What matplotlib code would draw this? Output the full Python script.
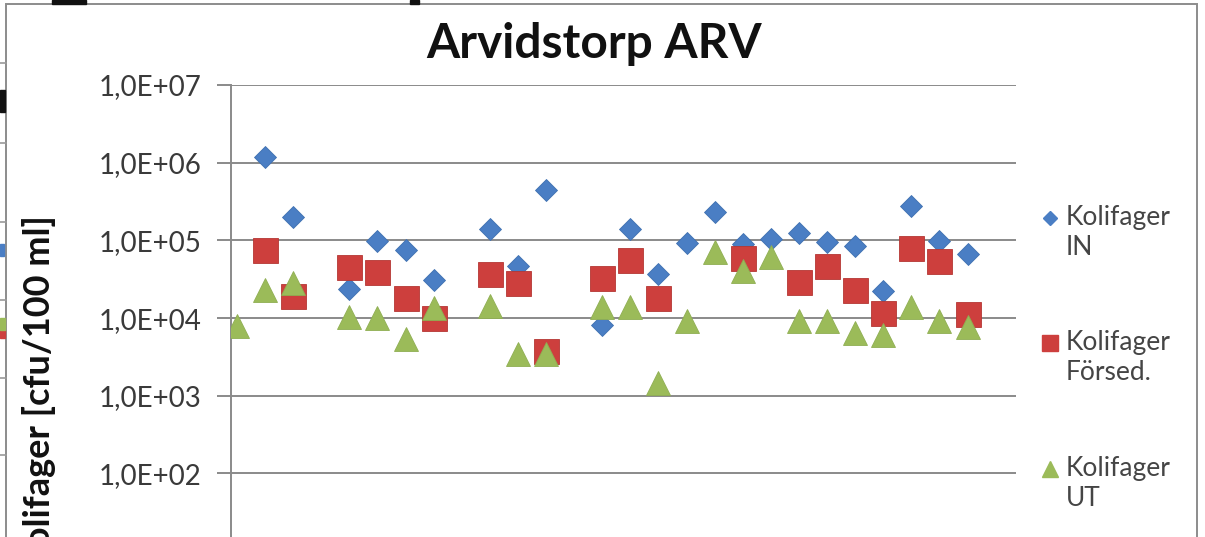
import numpy as np
import matplotlib
matplotlib.use("Agg")
import matplotlib.pyplot as plt
from matplotlib.lines import Line2D
from matplotlib.patches import Rectangle
from matplotlib.ticker import FixedLocator, FuncFormatter, NullLocator

# ---------------- data ----------------
sample_no = list(range(1, 28))
nan = np.nan
kolifager_in = [nan, 1.2e6, 2.0e5, nan, 2.4e4, 9.8e4, 7.5e4, 3.1e4, nan, 1.4e5,
                4.7e4, 4.5e5, nan, 8.1e3, 1.4e5, 3.7e4, 9.2e4, 2.35e5, 8.9e4, 1.03e5,
                1.24e5, 9.5e4, 8.5e4, 2.26e4, 2.8e5, 9.8e4, 6.6e4]
kolifager_forsed = [nan, 7.5e4, 1.95e4, nan, 4.6e4, 3.9e4, 1.84e4, 1.0e4, nan, 3.7e4,
                    2.8e4, 3.8e3, nan, 3.3e4, 5.6e4, 1.8e4, nan, nan, 5.9e4, nan,
                    2.9e4, 4.7e4, 2.3e4, 1.15e4, 7.9e4, 5.4e4, 1.12e4]
kolifager_ut = [7.9e3, 2.3e4, 2.8e4, nan, 1.02e4, 1.0e4, 5.4e3, 1.33e4, nan, 1.45e4,
                3.5e3, 3.5e3, nan, 1.37e4, 1.4e4, 1.48e3, 9.1e3, 7.1e4, 4.0e4, 6.1e4,
                9.1e3, 9.1e3, 6.4e3, 6.0e3, 1.4e4, 9.1e3, 7.6e3]
series_labels = ["Kolifager\nIN", "Kolifager\nFörsed.", "Kolifager\nUT"]
y_ticks = [1e2, 1e3, 1e4, 1e5, 1e6, 1e7]
title = "Arvidstorp ARV"
y_label = "Kolifager [cfu/100 ml]"

# ---------------- style ----------------
W, H = 1205, 537
C_IN, C_FS, C_UT = "#4a7ec4", "#cd3f3d", "#9bbb59"
GRID = "#8a8a8a"
TXT = "#3a3a3a"
FONT = "Lato"

def fx(px):
    return px / W

def fy(py):
    return 1 - py / H

fig = plt.figure(figsize=(W / 100, H / 100), dpi=100)
fig.patch.set_facecolor("white")

# axes geometry (pixels): left spine 231, right 1016, 1e7 at 85, decade 77.7 px
top_px, dec_px = 85, 77.7
ymin_exp, ymax_exp = 0, 7
bot_px = top_px + dec_px * (ymax_exp - ymin_exp)
ax = fig.add_axes([fx(231), fy(bot_px), fx(1016) - fx(231), (bot_px - top_px) / H])
ax.set_yscale("log")
ax.set_ylim(10 ** ymin_exp, 10 ** ymax_exp)
ax.set_xlim(0.79, 0.79 + 785 / 28.1)

ax.plot(sample_no, kolifager_in, linestyle="none", marker="D", ms=11.5,
        mfc=C_IN, mec="#3f70b0", mew=0.6, zorder=3)
ax.plot(sample_no, kolifager_forsed, linestyle="none", marker="s", ms=18,
        mfc=C_FS, mec="#b53633", mew=0.6, zorder=4)
ax.plot(sample_no, kolifager_ut, linestyle="none", marker="^", ms=17.5,
        mfc=C_UT, mec="#8fae52", mew=0.6, zorder=5)

ax.yaxis.set_major_locator(FixedLocator(y_ticks))
ax.yaxis.set_minor_locator(NullLocator())
ax.yaxis.set_major_formatter(FuncFormatter(
    lambda v, p: "1,0E+%02d" % int(round(np.log10(v)))))
ax.xaxis.set_major_locator(NullLocator())
ax.xaxis.set_minor_locator(NullLocator())
ax.grid(axis="y", which="major", color=GRID, lw=1.4, zorder=1)
ax.set_axisbelow(True)
for s in ["top", "right", "bottom"]:
    ax.spines[s].set_visible(False)
ax.spines["left"].set_color(GRID)
ax.spines["left"].set_linewidth(1.4)
ax.tick_params(axis="y", which="major", direction="out", length=10, width=1.4,
               color=GRID, pad=11, labelsize=20, labelcolor=TXT)
for lab in ax.get_yticklabels():
    lab.set_fontfamily(FONT)

# title and axis title (axis title runs past the bottom edge, as in the screenshot)
fig.text(fx(594), fy(57.5), title, ha="center", va="baseline",
         fontsize=34.5, fontweight="bold", family=FONT, color="#111111")
fig.text(fx(39), fy(215), y_label, rotation=90, ha="center", va="top",
         fontsize=26, fontweight="bold", family=FONT, color="#111111")

# legend (drawn manually to match Excel layout)
leg_y = [218, 343, 469]
leg_mk = [("D", 7.5, C_IN), ("s", 11, C_FS), ("^", 11, C_UT)]
for (m, ms, c), yy, lab in zip(leg_mk, leg_y, series_labels):
    fig.add_artist(Line2D([fx(1050)], [fy(yy)], marker=m, ms=ms, mfc=c, mec=c,
                          linestyle="none", transform=fig.transFigure))
    fig.text(fx(1066), fy(yy - 13), lab, ha="left", va="top", fontsize=19,
             family=FONT, color="#454545", linespacing=1.25)

# chart frame
fig.add_artist(Rectangle((fx(6), -0.1), fx(1197) - fx(6), fy(4) + 0.1, fill=False,
                         edgecolor="#8c8c8c", lw=1.4, transform=fig.transFigure))

# fragments of neighbouring content at the screenshot edges
for yy in [63, 143, 222, 300, 378, 455]:
    fig.add_artist(Line2D([0, fx(6)], [fy(yy), fy(yy)], color="#9a9a9a", lw=1.2,
                          transform=fig.transFigure))
fig.add_artist(Rectangle((0, fy(338)), fx(5), 8 / H, color="#cd3f3d",
                         transform=fig.transFigure))
fig.add_artist(Rectangle((0, fy(330)), fx(5), 12 / H, color="#9bbb59",
                         transform=fig.transFigure))
fig.add_artist(Rectangle((0, fy(256)), fx(4), 12 / H, color="#4a7ec4",
                         transform=fig.transFigure))
fig.add_artist(Rectangle((0, fy(112)), fx(5), 22 / H, color="#111111",
                         transform=fig.transFigure))
fig.add_artist(Rectangle((fx(52), fy(4)), fx(34), 4 / H, color="#111111",
                         transform=fig.transFigure))
fig.add_artist(Rectangle((fx(410), fy(4)), fx(9), 4 / H, color="#111111",
                         transform=fig.transFigure))

fig.savefig("out.png", dpi=100, facecolor="white")
